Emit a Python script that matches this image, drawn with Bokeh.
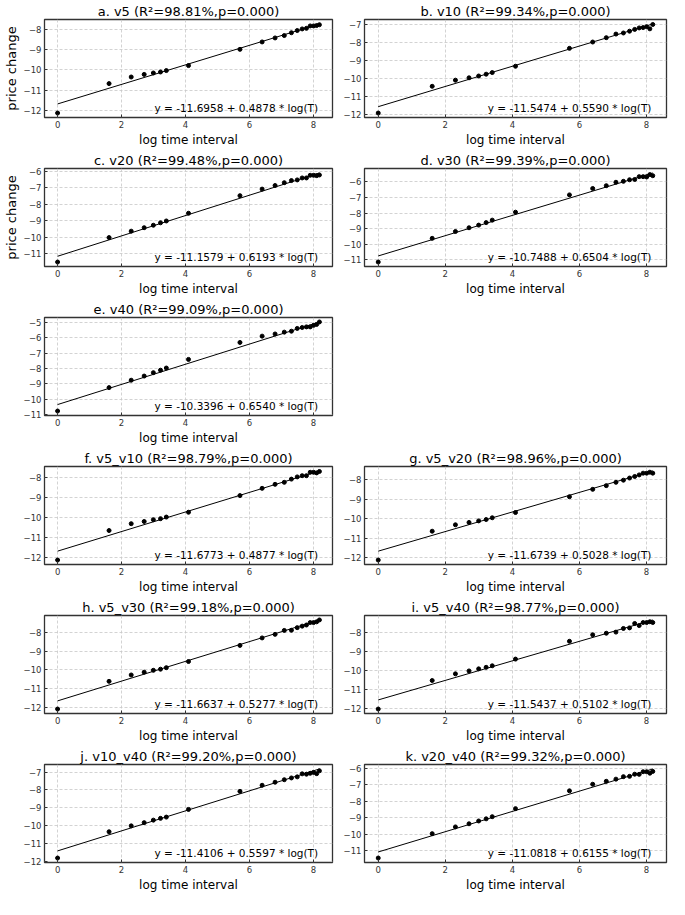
import numpy as np
from bokeh.plotting import figure
from bokeh.layouts import gridplot
from bokeh.models import Range1d, SingleIntervalTicker, CustomJSTickFormatter, Label
from bokeh.embed import file_html
from bokeh.resources import INLINE

# time intervals T (x axis is log(T))
T = [1, 5, 10, 15, 20, 25, 30, 60, 300, 600, 900, 1200, 1500, 1800,
     2100, 2400, 2700, 3000, 3300, 3600]

panel_labels = ["a. v5", "b. v10", "c. v20", "d. v30", "e. v40", "f. v5_v10",
                "g. v5_v20", "h. v5_v30", "i. v5_v40", "j. v10_v40", "k. v20_v40"]
r2_pct = ["98.81", "99.34", "99.48", "99.39", "99.09", "98.79",
          "98.96", "99.18", "98.77", "99.20", "99.32"]
p_vals = ["0.000"] * 11
intercepts = [-11.6958, -11.5474, -11.1579, -10.7488, -10.3396, -11.6773,
              -11.6739, -11.6637, -11.5437, -11.4106, -11.0818]
slopes = [0.4878, 0.5590, 0.6193, 0.6504, 0.6540, 0.4877,
          0.5028, 0.5277, 0.5102, 0.5597, 0.6155]

y_v5 = [-12.15, -10.68, -10.35, -10.22, -10.15, -10.10, -10.03, -9.78, -8.97, -8.60,
        -8.40, -8.28, -8.14, -8.03, -7.95, -7.92, -7.80, -7.80, -7.78, -7.74]
y_v10 = [-11.90, -10.42, -10.08, -9.95, -9.85, -9.75, -9.66, -9.31, -8.32, -7.97,
         -7.73, -7.53, -7.47, -7.37, -7.27, -7.19, -7.17, -7.12, -7.24, -7.00]
y_v20 = [-11.51, -10.02, -9.63, -9.42, -9.27, -9.12, -9.01, -8.54, -7.47, -7.07,
         -6.85, -6.68, -6.55, -6.51, -6.39, -6.39, -6.23, -6.23, -6.25, -6.21]
y_v30 = [-11.14, -9.62, -9.18, -8.94, -8.77, -8.61, -8.45, -7.94, -6.83, -6.42,
         -6.24, -6.02, -5.96, -5.86, -5.84, -5.66, -5.66, -5.68, -5.53, -5.60]
y_v40 = [-10.76, -9.24, -8.76, -8.49, -8.27, -8.11, -7.97, -7.41, -6.31, -5.90,
         -5.76, -5.64, -5.58, -5.40, -5.34, -5.30, -5.30, -5.20, -5.14, -4.98]
y_v5_v10 = [-12.12, -10.65, -10.31, -10.20, -10.11, -10.06, -9.98, -9.74, -8.91, -8.55,
            -8.35, -8.25, -8.09, -7.98, -7.92, -7.92, -7.75, -7.75, -7.78, -7.71]
y_v5_v20 = [-12.13, -10.65, -10.32, -10.20, -10.12, -10.05, -9.96, -9.69, -8.88, -8.50,
            -8.31, -8.14, -8.03, -7.92, -7.84, -7.76, -7.67, -7.67, -7.62, -7.67]
y_v5_v30 = [-12.10, -10.62, -10.28, -10.13, -10.03, -9.97, -9.89, -9.56, -8.70, -8.30,
            -8.11, -7.90, -7.89, -7.75, -7.67, -7.61, -7.48, -7.48, -7.44, -7.34]
y_v5_v40 = [-12.02, -10.53, -10.18, -10.03, -9.92, -9.84, -9.76, -9.41, -8.48, -8.14,
            -8.06, -8.00, -7.81, -7.78, -7.55, -7.66, -7.50, -7.50, -7.46, -7.50]
y_v10_v40 = [-11.81, -10.34, -10.01, -9.83, -9.69, -9.59, -9.52, -9.09, -8.08, -7.74,
             -7.57, -7.43, -7.33, -7.27, -7.10, -7.12, -7.07, -7.02, -7.09, -6.93]
y_v20_v40 = [-11.45, -9.97, -9.56, -9.37, -9.20, -9.07, -8.94, -8.45, -7.37, -6.97,
             -6.79, -6.66, -6.51, -6.49, -6.36, -6.37, -6.21, -6.21, -6.30, -6.19]

series = [y_v5, y_v10, y_v20, y_v30, y_v40, y_v5_v10, y_v5_v20, y_v5_v30,
          y_v5_v40, y_v10_v40, y_v20_v40]

FONT = "DejaVu Sans"
minus_fmt_code = "return tick < 0 ? '\u2212' + Math.abs(tick) : '' + tick;"


def make(i, left, ylabel):
    x = np.log(np.array(T, dtype=float))
    y = np.array(series[i])
    xs = np.array([x.min(), x.max()])
    ly = intercepts[i] + slopes[i] * xs
    lo = min(y.min(), ly.min())
    hi = max(y.max(), ly.max())
    pad = 0.05 * (hi - lo)
    xpad = 0.05 * (x.max() - x.min())
    xr = Range1d(x.min() - xpad, x.max() + xpad)
    yr = Range1d(lo - pad, hi + pad)
    p = figure(width=336 if left else 332, height=149,
               output_backend="svg", toolbar_location=None,
               x_range=xr, y_range=yr,
               min_border_left=32 if left else 28,
               min_border_right=4 if left else 2,
               min_border_top=17, min_border_bottom=30,
               title=f"{panel_labels[i]} (R\u00b2={r2_pct[i]}%,p={p_vals[i]})")
    p.title.align = "center"
    p.title.text_font = FONT
    p.title.text_font_size = "13px"
    p.title.text_font_style = "normal"
    p.title.text_color = "#000000"
    p.title.standoff = 2
    p.title.offset = 0

    p.outline_line_color = "#333333"
    p.outline_line_width = 1.3
    p.background_fill_color = "white"
    p.border_fill_color = "white"

    for g in (p.xgrid, p.ygrid):
        g.grid_line_color = "#c8c8c8"
        g.grid_line_dash = "3 2"
        g.grid_line_width = 0.8

    p.xaxis.ticker = SingleIntervalTicker(interval=2, num_minor_ticks=0)
    p.yaxis.ticker = SingleIntervalTicker(interval=1, num_minor_ticks=0)
    p.yaxis.formatter = CustomJSTickFormatter(code=minus_fmt_code)
    for ax in (p.xaxis, p.yaxis):
        ax.axis_line_color = None
        ax.major_tick_in = 3
        ax.major_tick_out = 0
        ax.major_tick_line_color = "#333333"
        ax.minor_tick_line_color = None
        ax.major_label_text_font = FONT
        ax.major_label_text_font_size = "8.5px"
        ax.major_label_text_color = "#333333"
        ax.major_label_standoff = 3
        ax.axis_label_text_font = FONT
        ax.axis_label_text_font_style = "normal"
        ax.axis_label_text_color = "#000000"
        ax.axis_label_standoff = 2
    p.xaxis.axis_label = "log time interval"
    p.xaxis.axis_label_text_font_size = "12px"
    if ylabel:
        p.yaxis.axis_label = "price change"
        p.yaxis.axis_label_text_font_size = "13px"

    p.scatter(x, y, size=4, color="black")
    p.line(xs, ly, line_color="black", line_width=1)

    eq = f"y = {intercepts[i]:.4f} + {slopes[i]:.4f} * log(T)"
    lab = Label(x=xr.start + 0.95 * (xr.end - xr.start),
                y=yr.start + 0.10 * (yr.end - yr.start),
                text=eq, text_align="right", text_baseline="alphabetic",
                text_font=FONT, text_font_size="10.5px", text_color="#000000")
    p.add_layout(lab)
    return p


layout_idx = [(0, 1), (2, 3), (4, None), (5, 6), (7, 8), (9, 10)]
rows = []
for r, (a, b) in enumerate(layout_idx):
    left = make(a, True, r < 2)
    right = make(b, False, False) if b is not None else None
    rows.append([left, right])

grid = gridplot(rows, toolbar_location=None)

open("out.html", "w").write(file_html(grid, INLINE))
